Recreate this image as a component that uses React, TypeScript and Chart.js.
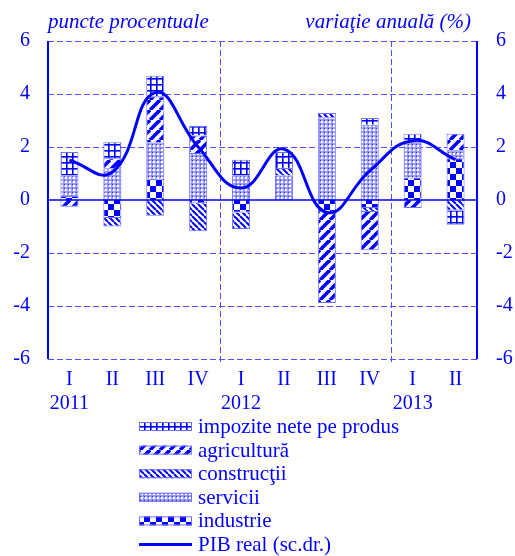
import React, { useEffect, useRef } from "react";
import { Chart, registerables } from "chart.js";

Chart.register(...registerables);

const categories = ["I", "II", "III", "IV", "I", "II", "III", "IV", "I", "II"];
const years = ["2011", "", "", "", "2012", "", "", "", "2013", ""];

const industrie = [0.15, -0.68, 0.8, -0.12, -0.47, 0, -0.45, -0.3, 0.85, 1.58];
const servicii = [0.78, 1.2, 1.37, 1.77, 0.93, 0.92, 3.12, 2.84, 1.35, 0.3];
const constructii = [0, -0.32, -0.59, -1.06, -0.62, 0.29, 0.16, -0.15, 0, -0.4];
const agricultura = [-0.25, 0.38, 1.74, 0.66, 0, 0, -3.44, -1.45, -0.3, 0.62];
const impozite = [0.88, 0.6, 0.78, 0.37, 0.59, 0.6, 0, 0.25, 0.3, -0.53];
const pib = [1.5, 1.05, 4.05, 2.0, 0.45, 1.92, -0.47, 1.1, 2.24, 1.52];

const yTicks = [-6, -4, -2, 0, 2, 4, 6];

const BLUE = "#0000ff";
const GRID = "#5050ff";
const SERIF = "'Liberation Serif', 'Times New Roman', serif";

function makeTile(size: number, draw: (c: CanvasRenderingContext2D) => void) {
  const cv = document.createElement("canvas");
  cv.width = size;
  cv.height = size;
  const c = cv.getContext("2d") as CanvasRenderingContext2D;
  c.fillStyle = "#ffffff";
  c.fillRect(0, 0, size, size);
  draw(c);
  return cv;
}

function makePatterns(ctx: CanvasRenderingContext2D) {
  const grid = makeTile(6, (c) => {
    c.fillStyle = BLUE;
    c.fillRect(0, 0, 6, 1.6);
    c.fillRect(0, 0, 1.6, 6);
  });
  const agri = makeTile(10, (c) => {
    c.strokeStyle = BLUE;
    c.lineWidth = 3.6;
    for (const k of [-10, 0, 10]) {
      c.beginPath();
      c.moveTo(k, 10);
      c.lineTo(k + 10, 0);
      c.stroke();
    }
  });
  const constr = makeTile(6, (c) => {
    c.strokeStyle = BLUE;
    c.lineWidth = 2;
    for (const k of [-6, 0, 6]) {
      c.beginPath();
      c.moveTo(k, 0);
      c.lineTo(k + 6, 6);
      c.stroke();
    }
  });
  const serv = makeTile(4, (c) => {
    c.fillStyle = "#9090ff";
    c.fillRect(0, 0, 4, 4);
    c.fillStyle = "#ffffff";
    c.beginPath();
    c.arc(2, 2, 1.3, 0, Math.PI * 2);
    c.fill();
    c.fillStyle = "#3030ff";
    c.fillRect(0, 0, 1, 1);
  });
  const checker = makeTile(12, (c) => {
    c.fillStyle = BLUE;
    c.fillRect(0, 0, 6, 6);
    c.fillRect(6, 6, 6, 6);
  });
  return {
    impozite: ctx.createPattern(grid, "repeat") as CanvasPattern,
    agricultura: ctx.createPattern(agri, "repeat") as CanvasPattern,
    constructii: ctx.createPattern(constr, "repeat") as CanvasPattern,
    servicii: ctx.createPattern(serv, "repeat") as CanvasPattern,
    industrie: ctx.createPattern(checker, "repeat") as CanvasPattern,
  };
}

export default function App() {
  const ref = useRef<HTMLCanvasElement | null>(null);

  useEffect(() => {
    document.body.style.margin = "0";
    const canvas = ref.current;
    if (!canvas) return;
    const ctx = canvas.getContext("2d") as CanvasRenderingContext2D;
    const pats = makePatterns(ctx);

    const labels = categories.map((c, i) => [c, years[i]]);

    const legendItems = [
      { label: "impozite nete pe produs", fill: pats.impozite },
      { label: "agricultură", fill: pats.agricultura },
      { label: "construcţii", fill: pats.constructii },
      { label: "servicii", fill: pats.servicii },
      { label: "industrie", fill: pats.industrie },
      { label: "PIB real (sc.dr.)", fill: null },
    ];

    const decor = {
      id: "decor",
      beforeDatasetsDraw(chart: any) {
        const { ctx: c, chartArea: a, scales } = chart;
        const y = scales.y;
        const x = scales.x;
        c.save();
        c.strokeStyle = GRID;
        c.lineWidth = 1;
        c.setLineDash([6, 3]);
        for (const v of yTicks) {
          if (v === 0) continue;
          const py = Math.round(y.getPixelForValue(v)) + 0.5;
          c.beginPath();
          c.moveTo(a.left, py);
          c.lineTo(a.right, py);
          c.stroke();
        }
        for (const idx of [4, 8]) {
          const px = Math.round((x.getPixelForValue(idx - 1) + x.getPixelForValue(idx)) / 2) + 0.5;
          c.beginPath();
          c.moveTo(px, a.top);
          c.lineTo(px, a.bottom + 4);
          c.stroke();
        }
        c.restore();
      },
      afterDatasetsDraw(chart: any) {
        const { ctx: c, chartArea: a, scales } = chart;
        const y = scales.y;
        c.save();
        c.strokeStyle = BLUE;
        c.lineWidth = 1.5;
        const zy = y.getPixelForValue(0);
        c.beginPath();
        c.moveTo(a.left, zy);
        c.lineTo(a.right, zy);
        c.stroke();
        c.lineWidth = 2;
        c.beginPath();
        c.moveTo(a.left, a.top);
        c.lineTo(a.left, a.bottom);
        c.moveTo(a.right, a.top);
        c.lineTo(a.right, a.bottom);
        c.stroke();
        c.restore();
      },
      afterDraw(chart: any) {
        const c = chart.ctx as CanvasRenderingContext2D;
        c.save();
        c.fillStyle = BLUE;
        c.font = `italic 21px ${SERIF}`;
        c.textBaseline = "alphabetic";
        c.textAlign = "left";
        c.fillText("puncte procentuale", 48, 28);
        c.textAlign = "right";
        c.fillText("variaţie anuală (%)", 471, 28);

        c.font = `21px ${SERIF}`;
        c.textAlign = "left";
        c.textBaseline = "middle";
        const boxX = 139;
        const boxW = 53;
        const boxH = 9;
        legendItems.forEach((it, i) => {
          const cy = 426.5 + i * 23.6;
          if (it.fill) {
            c.fillStyle = it.fill as any;
            c.fillRect(boxX, cy - boxH / 2, boxW, boxH);
            c.strokeStyle = "#7070ff";
            c.lineWidth = 1;
            c.strokeRect(boxX + 0.5, cy - boxH / 2 + 0.5, boxW - 1, boxH - 1);
          } else {
            c.strokeStyle = BLUE;
            c.lineWidth = 3;
            c.beginPath();
            c.moveTo(boxX, cy);
            c.lineTo(boxX + boxW, cy);
            c.stroke();
          }
          c.fillStyle = BLUE;
          c.fillText(it.label, 198, cy + 1);
        });
        c.restore();
      },
    };

    const barCommon = {
      type: "bar" as const,
      yAxisID: "y",
      stack: "s",
      borderColor: "#7070ff",
      borderWidth: 1,
      categoryPercentage: 1,
      barPercentage: 0.42,
      order: 1,
    };

    const chart = new Chart(canvas, {
      type: "bar",
      data: {
        labels,
        datasets: [
          { ...barCommon, label: "industrie", data: industrie, backgroundColor: pats.industrie },
          { ...barCommon, label: "servicii", data: servicii, backgroundColor: pats.servicii },
          { ...barCommon, label: "construcţii", data: constructii, backgroundColor: pats.constructii },
          { ...barCommon, label: "agricultură", data: agricultura, backgroundColor: pats.agricultura },
          { ...barCommon, label: "impozite nete pe produs", data: impozite, backgroundColor: pats.impozite },
          {
            type: "line",
            label: "PIB real (sc.dr.)",
            data: pib,
            yAxisID: "y2",
            borderColor: BLUE,
            borderWidth: 3,
            pointRadius: 0,
            tension: 0.45,
            fill: false,
            order: 0,
          } as any,
        ],
      },
      options: {
        responsive: false,
        animation: false,
        layout: { padding: { top: 41, bottom: 137, left: 0, right: 0 } },
        plugins: {
          legend: { display: false },
          tooltip: { enabled: false },
          title: { display: false },
        },
        scales: {
          x: {
            stacked: true,
            grid: { display: false, drawTicks: false },
            border: { display: false },
            ticks: {
              color: BLUE,
              font: { family: SERIF, size: 20, lineHeight: 1.2 },
              padding: 9,
              maxRotation: 0,
              autoSkip: false,
            },
            afterFit: (s: any) => {
              s.height = 60;
            },
          },
          y: {
            stacked: true,
            position: "left",
            min: -6,
            max: 6,
            grid: { display: false, drawTicks: false },
            border: { display: false },
            ticks: {
              stepSize: 2,
              color: BLUE,
              font: { family: SERIF, size: 20 },
              padding: 18,
            },
            afterFit: (s: any) => {
              s.width = 48;
            },
          },
          y2: {
            position: "right",
            min: -6,
            max: 6,
            grid: { display: false, drawTicks: false },
            border: { display: false },
            ticks: {
              stepSize: 2,
              color: BLUE,
              font: { family: SERIF, size: 20 },
              padding: 19,
            },
            afterFit: (s: any) => {
              s.width = 38;
            },
          },
        },
      },
      plugins: [decor],
    });

    return () => chart.destroy();
  }, []);

  return (
    <canvas
      ref={ref}
      width={515}
      height={556}
      style={{ display: "block", width: "515px", height: "556px" }}
    />
  );
}
